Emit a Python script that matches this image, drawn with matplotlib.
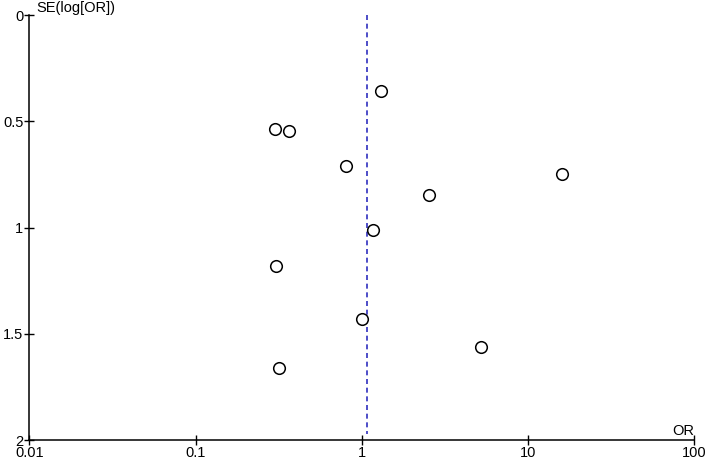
import matplotlib
matplotlib.use("Agg")
import matplotlib.pyplot as plt
from matplotlib.ticker import FixedLocator, FixedFormatter, NullLocator

plt.rcParams['font.family'] = ['Liberation Sans', 'DejaVu Sans']

# Data
odds_ratio = [1.30, 0.302, 0.363, 0.804, 2.55, 16.1, 1.163, 0.306, 1.00, 5.23, 0.316]
se_log_or = [0.359, 0.535, 0.546, 0.712, 0.845, 0.750, 1.010, 1.181, 1.431, 1.561, 1.663]
pooled_or = 1.07

x_ticks = [0.01, 0.1, 1, 10, 100]
x_tick_labels = ["0.01", "0.1", "1", "10", "100"]
y_ticks = [0, 0.5, 1, 1.5, 2]
y_tick_labels = ["0", "0.5", "1", "1.5", "2"]

fig = plt.figure(figsize=(7.08, 4.63), dpi=100)
ax = fig.add_axes([29.3 / 708, 23 / 463, (694.3 - 29.3) / 708, (440 - 15) / 463])

ax.set_xscale('log')
ax.set_xlim(0.01, 100)
ax.set_ylim(2, 0)

ax.plot([pooled_or, pooled_or], [0, 1.97], color='#2f2fbf', lw=1.2,
        dashes=(3.0, 2.2), zorder=1)
ax.scatter(odds_ratio, se_log_or, s=70, facecolors='white', edgecolors='black',
           linewidths=1.1, zorder=3)

for s in ['top', 'right']:
    ax.spines[s].set_visible(False)
for s in ['left', 'bottom']:
    ax.spines[s].set_linewidth(1.1)
    ax.spines[s].set_color('black')

ax.xaxis.set_major_locator(FixedLocator(x_ticks))
ax.xaxis.set_major_formatter(FixedFormatter(x_tick_labels))
ax.xaxis.set_minor_locator(NullLocator())
ax.yaxis.set_major_locator(FixedLocator(y_ticks))
ax.yaxis.set_major_formatter(FixedFormatter(y_tick_labels))

ax.tick_params(axis='both', direction='inout', length=6.5, width=1.0,
               labelsize=10.5, colors='black', pad=1)

ax.text(37 / 708 - 29.3 / 708, 1.0, "SE(log[OR])", transform=ax.transAxes,
        ha='left', va='bottom', fontsize=10.5)
ax.text(1.0, 0.004, "OR", transform=ax.transAxes, ha='right', va='bottom', fontsize=10.5)

fig.savefig("out.png", dpi=100)
